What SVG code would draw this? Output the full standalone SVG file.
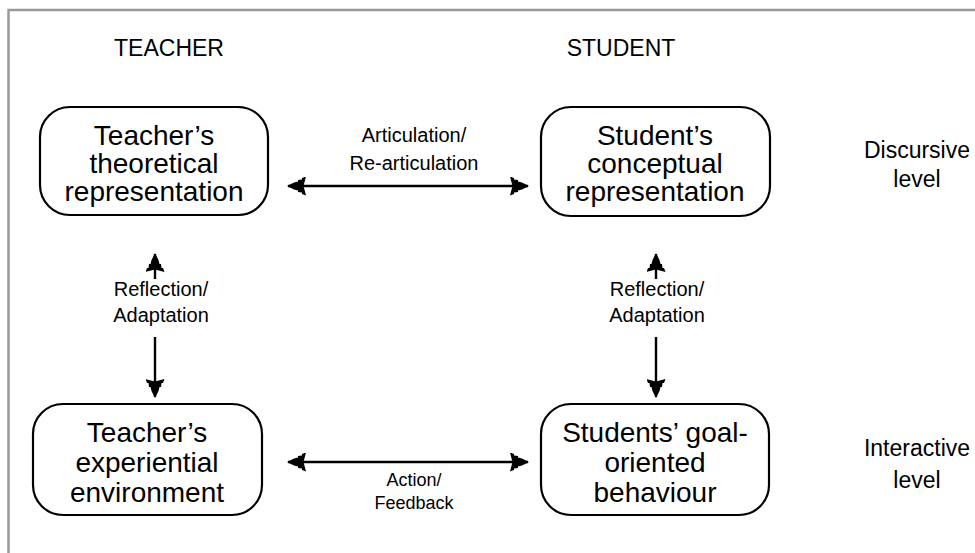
<svg xmlns="http://www.w3.org/2000/svg" width="975" height="553" viewBox="0 0 975 553">
<style>
.frame{fill:none;stroke:#999;stroke-width:2.5}
.box{fill:#fff;stroke:#000;stroke-width:2.2}
.t{font-family:"Liberation Sans",Arial,Helvetica,sans-serif;fill:#000;text-anchor:middle}
.bt{font-size:28px}
.lt{font-size:20px}
.st{font-size:18px}
.ht{font-size:23px}
.conn{stroke:#000;stroke-width:2.4;fill:none}
</style>
<defs>
<marker id="ah" viewBox="0 0 19 19" refX="18" refY="9.5" markerWidth="19" markerHeight="19" markerUnits="userSpaceOnUse" orient="auto-start-reverse">
<path d="M0,0 L4,1.5 L4,3 L8,3.5 L8,5 L12,6 L19,9.5 L12,13 L8,14 L8,15.5 L4,16 L4,17.5 L0,19 L2.5,9.5 Z" fill="#000"/>
</marker>
</defs>
<rect class="frame" x="8.5" y="10" width="1000" height="600"/>
<text class="t ht" x="169" y="56">TEACHER</text>
<text class="t ht" x="621" y="56">STUDENT</text>
<g id="n1">
<rect class="box" x="40" y="107" width="228" height="108" rx="30"/>
<text class="t bt" x="154" y="145">Teacher’s</text>
<text class="t bt" x="154" y="173">theoretical</text>
<text class="t bt" x="154" y="201">representation</text>
</g>
<g id="n2">
<rect class="box" x="541" y="107" width="229" height="109" rx="30"/>
<text class="t bt" x="655" y="145">Student’s</text>
<text class="t bt" x="655" y="173">conceptual</text>
<text class="t bt" x="655" y="201">representation</text>
</g>
<g id="n3">
<rect class="box" x="33" y="404" width="229" height="111" rx="30"/>
<text class="t bt" x="147" y="442">Teacher’s</text>
<text class="t bt" x="147" y="472">experiential</text>
<text class="t bt" x="147" y="502">environment</text>
</g>
<g id="n4">
<rect class="box" x="541" y="404" width="228" height="111" rx="30"/>
<text class="t bt" x="655" y="442">Students’ goal-</text>
<text class="t bt" x="655" y="472">oriented</text>
<text class="t bt" x="655" y="502">behaviour</text>
</g>
<g id="levels">
<text class="t ht" x="917" y="158">Discursive</text>
<text class="t ht" x="917" y="187">level</text>
<text class="t ht" x="917" y="456">Interactive</text>
<text class="t ht" x="917" y="488">level</text>
</g>
<g id="connectors">
<line class="conn" x1="288" y1="186" x2="528" y2="186" marker-start="url(#ah)" marker-end="url(#ah)"/>
<line class="conn" x1="288" y1="462" x2="528" y2="462" marker-start="url(#ah)" marker-end="url(#ah)"/>
<line class="conn" x1="155" y1="279" x2="155" y2="254" marker-end="url(#ah)"/>
<line class="conn" x1="155" y1="337" x2="155" y2="397" marker-end="url(#ah)"/>
<line class="conn" x1="656" y1="279" x2="656" y2="254" marker-end="url(#ah)"/>
<line class="conn" x1="656" y1="337" x2="656" y2="397" marker-end="url(#ah)"/>
<text class="t lt" x="414" y="142">Articulation/</text>
<text class="t lt" x="414" y="170">Re-articulation</text>
<text class="t st" x="414" y="486">Action/</text>
<text class="t st" x="414" y="509">Feedback</text>
<text class="t lt" x="161" y="296">Reflection/</text>
<text class="t lt" x="161" y="322">Adaptation</text>
<text class="t lt" x="657" y="296">Reflection/</text>
<text class="t lt" x="657" y="322">Adaptation</text>
</g>
</svg>
